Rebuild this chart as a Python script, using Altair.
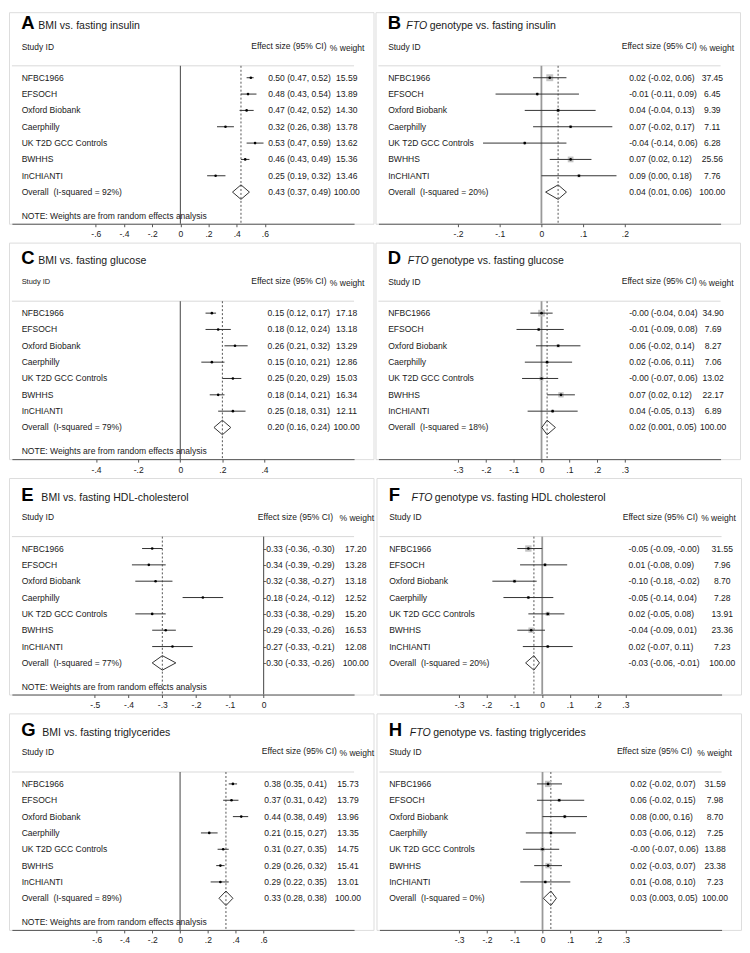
import altair as alt
import pandas as pd

FONT = "Liberation Sans"

studies = ["NFBC1966", "EFSOCH", "Oxford Biobank", "Caerphilly",
           "UK T2D GCC Controls", "BWHHS", "InCHIANTI"]

# last element of each list = Overall
A_est = [0.50, 0.48, 0.47, 0.32, 0.53, 0.46, 0.25, 0.43]
A_lo = [0.47, 0.43, 0.42, 0.26, 0.47, 0.43, 0.19, 0.37]
A_hi = [0.52, 0.54, 0.52, 0.38, 0.59, 0.49, 0.32, 0.49]
A_w = [15.59, 13.89, 14.30, 13.78, 13.62, 15.36, 13.46, 100.00]
A_i2 = 92

B_est = [0.02, -0.01, 0.04, 0.07, -0.04, 0.07, 0.09, 0.04]
B_lo = [-0.02, -0.11, -0.04, -0.02, -0.14, 0.02, 0.00, 0.01]
B_hi = [0.06, 0.09, 0.13, 0.17, 0.06, 0.12, 0.18, 0.06]
B_w = [37.45, 6.45, 9.39, 7.11, 6.28, 25.56, 7.76, 100.00]
B_i2 = 20

C_est = [0.15, 0.18, 0.26, 0.15, 0.25, 0.18, 0.25, 0.20]
C_lo = [0.12, 0.12, 0.21, 0.10, 0.20, 0.14, 0.18, 0.16]
C_hi = [0.17, 0.24, 0.32, 0.21, 0.29, 0.21, 0.31, 0.24]
C_w = [17.18, 13.18, 13.29, 12.86, 15.03, 16.34, 12.11, 100.00]
C_i2 = 79

D_est = [-0.0, -0.01, 0.06, 0.02, -0.0, 0.07, 0.04, 0.02]
D_lo = [-0.04, -0.09, -0.02, -0.06, -0.07, 0.02, -0.05, 0.001]
D_hi = [0.04, 0.08, 0.14, 0.11, 0.06, 0.12, 0.13, 0.05]
D_w = [34.90, 7.69, 8.27, 7.06, 13.02, 22.17, 6.89, 100.00]
D_i2 = 18

E_est = [-0.33, -0.34, -0.32, -0.18, -0.33, -0.29, -0.27, -0.30]
E_lo = [-0.36, -0.39, -0.38, -0.24, -0.38, -0.33, -0.33, -0.33]
E_hi = [-0.30, -0.29, -0.27, -0.12, -0.29, -0.26, -0.21, -0.26]
E_w = [17.20, 13.28, 13.18, 12.52, 15.20, 16.53, 12.08, 100.00]
E_i2 = 77

F_est = [-0.05, 0.01, -0.10, -0.05, 0.02, -0.04, 0.02, -0.03]
F_lo = [-0.09, -0.08, -0.18, -0.14, -0.05, -0.09, -0.07, -0.06]
F_hi = [-0.0, 0.09, -0.02, 0.04, 0.08, 0.01, 0.11, -0.01]
F_w = [31.55, 7.96, 8.70, 7.28, 13.91, 23.36, 7.23, 100.00]
F_i2 = 20

G_est = [0.38, 0.37, 0.44, 0.21, 0.31, 0.29, 0.29, 0.33]
G_lo = [0.35, 0.31, 0.38, 0.15, 0.27, 0.26, 0.22, 0.28]
G_hi = [0.41, 0.42, 0.49, 0.27, 0.35, 0.32, 0.35, 0.38]
G_w = [15.73, 13.79, 13.96, 13.35, 14.75, 15.41, 13.01, 100.00]
G_i2 = 89

H_est = [0.02, 0.06, 0.08, 0.03, -0.0, 0.02, 0.01, 0.03]
H_lo = [-0.02, -0.02, 0.00, -0.06, -0.07, -0.03, -0.08, 0.003]
H_hi = [0.07, 0.15, 0.16, 0.12, 0.06, 0.07, 0.10, 0.05]
H_w = [31.59, 7.98, 8.70, 7.25, 13.88, 23.38, 7.23, 100.00]
H_i2 = 0

ticks_bmi_wide = [-0.6, -0.4, -0.2, 0, 0.2, 0.4, 0.6]
ticks_B = [-0.2, -0.1, 0, 0.1, 0.2]
ticks_C = [-0.4, -0.2, 0, 0.2, 0.4]
ticks_fto = [-0.3, -0.2, -0.1, 0, 0.1, 0.2, 0.3]
ticks_E = [-0.5, -0.4, -0.3, -0.2, -0.1, 0]

# ---------------- layout (pixels, reference coordinates) ----------------
W = 367
SX = W / 375.0
H = 218
AX0, AX1 = 3.0, 355.0
ROW0, PITCH = 71.0, 16.45
TOPLINE = 59


def X(px):
    return px * SX


LAYOUT = {
    "A": dict(zero=176.3, ppu=145.0, tx=30, ty=21.5, eh=249.3, wh=330, ex=266.7, wx=347.5, hy=40, sid=8.5, dy=5),
    "B": dict(zero=170.7, ppu=429.0, tx=31.7, ty=21.5, eh=253.3, wh=333.3, ex=261, wx=346.5, hy=40, sid=8.5, dy=5),
    "C": dict(zero=176.2, ppu=216.6, tx=30, ty=21.5, eh=249.3, wh=330, ex=266, wx=347.3, hy=39.5, sid=7.5, dy=0),
    "D": dict(zero=170.8, ppu=286.0, tx=33.3, ty=21.5, eh=253.3, wh=332.7, ex=261, wx=347.3, hy=39.5, sid=8.5, dy=0),
    "E": dict(zero=262.0, ppu=347.5, tx=33.3, ty=23, eh=256, wh=340, ex=261.7, wx=356.7, hy=39.5, sid=8.5, dy=0),
    "F": dict(zero=170.5, ppu=285.0, tx=36, ty=23, eh=253.3, wh=334, ex=259.3, wx=355.7, hy=39.5, sid=8.5, dy=0),
    "G": dict(zero=176.0, ppu=143.0, tx=34.3, ty=23, eh=260, wh=340, ex=262.7, wx=348.7, hy=38.5, sid=8.5, dy=0),
    "H": dict(zero=170.8, ppu=286.0, tx=34.3, ty=23, eh=247.3, wh=330, ex=261, wx=348.3, hy=38.5, sid=8.5, dy=0),
}

LABEL_EXPR = ("datum.value == 0 ? '0' : (datum.value < 0 ? '-' : '') + "
              "replace(format(abs(datum.value), '.1f'), '0.', '.')")


def f2(v):
    return f"{v:.3f}" if 0 < abs(v) < 0.005 else f"{v:.2f}"


one = pd.DataFrame({"k": [0]})


def txt(text, x, y, size=8.6, weight="normal", style="normal", align="left",
        baseline="middle", color="#1a1a1a"):
    return alt.Chart(pd.DataFrame({"t": [text]})).mark_text(
        font=FONT, fontSize=size, fontWeight=weight, fontStyle=style,
        align=align, baseline=baseline, color=color
    ).encode(text="t:N", x=alt.value(X(x)), y=alt.value(y))


def panel(key, italic, title, est, lo, hi, w, i2, ticks, note, fto):
    L = LAYOUT[key]
    dy = L["dy"]
    Hp = H - dy
    top = TOPLINE - dy
    dom = [(AX0 - L["zero"]) / L["ppu"], (AX1 - L["zero"]) / L["ppu"]]
    xs = alt.Scale(domain=dom, range=[X(AX0), X(AX1)], nice=False, zero=False)
    xa = alt.Axis(values=ticks, labelExpr=LABEL_EXPR, title=None, grid=False,
                  domainColor="#555555", tickColor="#555555", tickSize=3,
                  labelFontSize=8.6, labelColor="#1a1a1a", labelPadding=3,
                  labelFont=FONT, labelFlush=False, labelOverlap=False)
    row0 = ROW0 - dy
    r_top = -row0 / PITCH
    r_bot = (Hp - row0) / PITCH
    ys = alt.Scale(domain=[r_top, r_bot], reverse=True, nice=False, zero=False)

    labels = studies + [f"Overall\u00a0 (I-squared = {i2}%)"]
    df = pd.DataFrame({
        "r": list(range(8)),
        "label": labels,
        "est": est, "lo": lo, "hi": hi, "w": w,
        "eff": [f"{f2(e)} ({f2(a)}, {f2(b)})" for e, a, b in zip(est, lo, hi)],
        "wt": [f"{v:.2f}" for v in w],
    })
    st = df[df.r < 7]

    xq = lambda f: alt.X(f, type="quantitative", scale=xs, axis=xa)
    yq = alt.Y("r:Q", scale=ys, axis=None)

    layers = []
    layers.append(alt.Chart(one).mark_rule(color="#d9d9d9", strokeWidth=1).encode(
        x=alt.value(X(AX0)), x2=alt.value(X(AX1)), y=alt.value(top)))
    zcol, zw = ("#999999", 1.8) if fto else ("#444444", 1.0)
    layers.append(alt.Chart(pd.DataFrame({"x": [0.0]})).mark_rule(
        color=zcol, strokeWidth=zw).encode(
        x=xq("x"), y=alt.value(top), y2=alt.value(Hp)))
    layers.append(alt.Chart(pd.DataFrame({"x": [est[7]]})).mark_rule(
        color="#555555", strokeWidth=1, strokeDash=[2, 2]).encode(
        x=xq("x"), y=alt.value(top), y2=alt.value(Hp)))
    if fto:
        layers.append(alt.Chart(st).mark_square(color="#c4c4c4", opacity=1).encode(
            x=xq("est"), y=yq,
            size=alt.Size("w:Q", scale=alt.Scale(domain=[0, 100], range=[0, 130]), legend=None)))
    layers.append(alt.Chart(st).mark_rule(color="#333333", strokeWidth=1).encode(
        x=xq("lo"), x2="hi:Q", y=yq))
    layers.append(alt.Chart(st).mark_circle(color="#000000", size=7, opacity=1).encode(
        x=xq("est"), y=yq))
    dh = 7.3 / PITCH
    dia = pd.DataFrame({
        "x": [lo[7], est[7], hi[7], est[7], lo[7]],
        "r": [7, 7 - dh, 7, 7 + dh, 7],
        "o": [0, 1, 2, 3, 4],
    })
    layers.append(alt.Chart(dia).mark_line(color="#333333", strokeWidth=1).encode(
        x=xq("x"), y=yq, order="o:Q"))
    # text columns
    layers.append(alt.Chart(df).mark_text(font=FONT, fontSize=8.6, align="left",
                                          baseline="middle", color="#1a1a1a").encode(
        x=alt.value(X(13)), y=yq, text="label:N"))
    layers.append(alt.Chart(df).mark_text(font=FONT, fontSize=8.6, align="left",
                                          baseline="middle", color="#1a1a1a").encode(
        x=alt.value(X(L["ex"])), y=yq, text="eff:N"))
    layers.append(alt.Chart(df).mark_text(font=FONT, fontSize=8.6, align="center",
                                          baseline="middle", color="#1a1a1a").encode(
        x=alt.value(X(L["wx"])), y=yq, text="wt:N"))
    # headers
    ty = L["ty"] - dy
    hy = L["hy"] - dy
    layers.append(txt(key, 12.5, ty, size=18.6, weight="bold", baseline="alphabetic",
                      color="#000000"))
    if italic:
        layers.append(txt(italic, L["tx"], ty, size=10.6, style="italic",
                          baseline="alphabetic"))
        layers.append(txt(title, L["tx"] + 24.0, ty, size=10.6, baseline="alphabetic"))
    else:
        layers.append(txt(title, L["tx"], ty, size=10.6, baseline="alphabetic"))
    layers.append(txt("Study ID", 13, hy, size=L["sid"]))
    layers.append(txt("Effect size (95% CI)", L["eh"], hy - 0.5))
    layers.append(txt("% weight", L["wh"], hy + 1.2))
    if note:
        layers.append(txt("NOTE: Weights are from random effects analysis", 13, 210 - dy))

    return alt.layer(*layers).properties(width=W, height=Hp)


pA = panel("A", "", "BMI vs. fasting insulin", A_est, A_lo, A_hi, A_w, A_i2, ticks_bmi_wide, True, False)
pB = panel("B", "FTO", "genotype vs. fasting insulin", B_est, B_lo, B_hi, B_w, B_i2, ticks_B, False, True)
pC = panel("C", "", "BMI vs. fasting glucose", C_est, C_lo, C_hi, C_w, C_i2, ticks_C, True, False)
pD = panel("D", "FTO", "genotype vs. fasting glucose", D_est, D_lo, D_hi, D_w, D_i2, ticks_fto, False, True)
pE = panel("E", "", "BMI vs. fasting HDL-cholesterol", E_est, E_lo, E_hi, E_w, E_i2, ticks_E, True, False)
pF = panel("F", "FTO", "genotype vs. fasting HDL cholesterol", F_est, F_lo, F_hi, F_w, F_i2, ticks_fto, False, True)
pG = panel("G", "", "BMI vs. fasting triglycerides", G_est, G_lo, G_hi, G_w, G_i2, ticks_bmi_wide, True, False)
pH = panel("H", "FTO", "genotype vs. fasting triglycerides", H_est, H_lo, H_hi, H_w, H_i2, ticks_fto, False, True)

rows = [alt.hconcat(a, b, spacing=0) for a, b in [(pA, pB), (pC, pD), (pE, pF), (pG, pH)]]
chart = alt.vconcat(*rows, spacing=2).properties(padding=0).configure_view(
    stroke=None).configure(background="white")

chart.save("out.html", embed_options={"renderer": "svg", "actions": False})
